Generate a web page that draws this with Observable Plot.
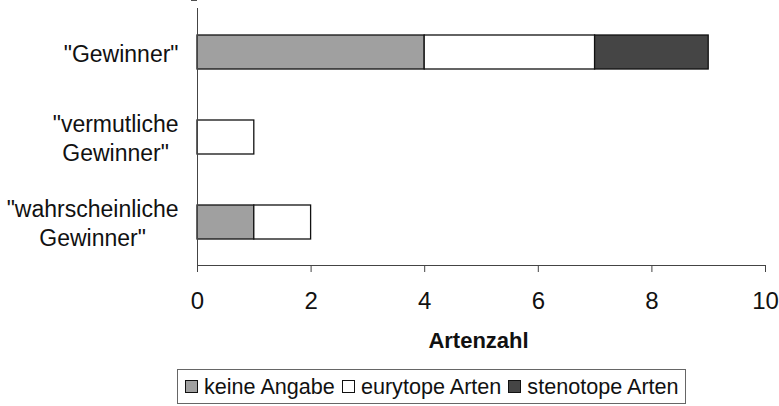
<!DOCTYPE html>
<html>
<head>
<meta charset="utf-8">
<script src="https://cdn.jsdelivr.net/npm/d3@7"></script>
<script src="https://cdn.jsdelivr.net/npm/@observablehq/plot@0.6"></script>
<style>
  html, body { margin: 0; padding: 0; background: #fff; }
  body { width: 779px; height: 406px; position: relative; overflow: hidden; font-family: "Liberation Sans", Arial, sans-serif; }
  #legend { position: absolute; left: 177px; top: 369px; width: 509px; height: 35px; border: 1px solid #666;
            display: flex; align-items: center; padding-left: 7px; box-sizing: border-box; font-size: 21.6px; color: #111; white-space: nowrap; }
  #legend .sw { display: inline-block; width: 11px; height: 11px; border: 1px solid #111; margin-right: 6px; }
  #legend .item { display: inline-flex; align-items: center; margin-right: 7px; }
</style>
</head>
<body>
<div id="chart"></div>
<div id="legend"></div>
<script>
const categories = ["\"Gewinner\"", "\"vermutliche\nGewinner\"", "\"wahrscheinliche\nGewinner\""];
const seriesNames = ["keine Angabe", "eurytope Arten", "stenotope Arten"];
const keineAngabe = [4, 0, 1];
const eurytopeArten = [3, 1, 1];
const stenotopeArten = [2, 0, 0];
const xTicks = [0, 2, 4, 6, 8, 10];
const axisTitle = "Artenzahl";
const colors = ["#a0a0a0", "#ffffff", "#454545"];

const seriesValues = [keineAngabe, eurytopeArten, stenotopeArten];
const data = [];
categories.forEach((c, i) => {
  seriesNames.forEach((s, j) => {
    if (seriesValues[j][i] > 0) data.push({category: c, series: s, value: seriesValues[j][i]});
  });
});

// tick marks at the category boundaries (Excel-style), built from the y scale
function boundaryTicks() {
  return (index, scales, values, dimensions) => {
    const y = scales.y;
    const dom = categories;
    const step = y.step ?? ((dimensions.height - dimensions.marginTop - dimensions.marginBottom) / dom.length);
    const bw = y.bandwidth ?? step * 0.4;
    const gap = (step - bw) / 2;
    const ys = dom.map(c => y(c) - gap);
    ys.push(y(dom[dom.length - 1]) + bw + gap);
    const x0 = dimensions.marginLeft;
    const g = d3.create("svg:g");
    g.selectAll("line").data(ys).join("line")
      .attr("x1", x0 - 6).attr("x2", x0).attr("y1", d => d).attr("y2", d => d)
      .attr("stroke", "#444").attr("stroke-width", 1);
    return g.node();
  };
}

const plot = Plot.plot({
  width: 779,
  height: 366,
  marginLeft: 197,
  marginRight: 14,
  marginTop: 8,
  marginBottom: 101,
  style: {fontFamily: "'Liberation Sans', Arial, sans-serif", color: "#111", background: "#fff"},
  x: {domain: [0, 10], ticks: xTicks, label: null},
  y: {domain: categories, paddingInner: 0.6, paddingOuter: 0.3, label: null},
  color: {domain: seriesNames, range: colors},
  marks: [
    Plot.barX(data, Plot.stackX({
      x: "value", y: "category", fill: "series", order: seriesNames,
      stroke: "#111", strokeWidth: 1.3
    })),
    Plot.frame({anchor: "left", stroke: "#444"}),
    Plot.frame({anchor: "bottom", stroke: "#444"}),
    Plot.axisX({ticks: xTicks, tickSize: 7, tickPadding: 19, fontSize: 24, stroke: "#444", label: null}),
    Plot.axisY({tickSize: 0, tickPadding: 19, fontSize: 23, lineHeight: 1.25, label: null}),
    boundaryTicks(),
    Plot.text([axisTitle], {frameAnchor: "bottom", dy: 75, fontSize: 22, fontWeight: "bold", lineAnchor: "middle", dx: -3})
  ]
});
document.getElementById("chart").appendChild(plot);

// center the lines of each multi-line category label within its right-aligned block
d3.select(plot).selectAll("g[aria-label='y-axis tick label'] text").each(function() {
  const tspans = this.querySelectorAll("tspan");
  if (tspans.length < 2) return;
  const widths = Array.from(tspans, t => t.getComputedTextLength());
  const maxW = Math.max(...widths);
  this.setAttribute("text-anchor", "middle");
  tspans.forEach(t => t.setAttribute("x", -maxW / 2));
});

// legend
const legend = d3.select("#legend");
seriesNames.forEach((s, i) => {
  const item = legend.append("span").attr("class", "item");
  item.append("span").attr("class", "sw").style("background", colors[i]);
  item.append("span").text(s);
});
</script>
</body>
</html>
